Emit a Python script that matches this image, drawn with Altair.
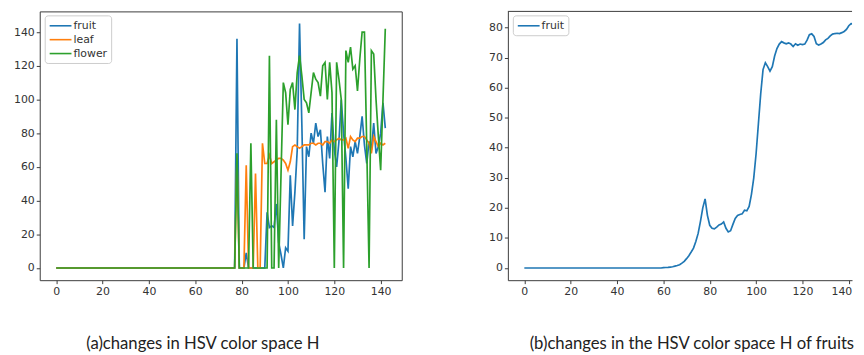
import altair as alt
import pandas as pd

steps = list(range(143))

# (a) per-step H values, steps 0..76 are all zero
fruit_a = [0] * 77 + [
    0, 136, 0, 0, 0, 9, 0, 0, 0, 0, 0, 0, 0, 0,
    33, 24, 25, 24, 38, 15, 8, 0, 12, 10,
    55, 25, 45, 70, 145, 85, 17, 72, 66, 80,
    74, 86, 78, 82, 62, 45, 78, 65, 92, 70,
    60, 75, 100, 80, 65, 47, 72, 66, 75, 68,
    78, 90, 73, 62, 75, 70, 86, 68, 72, 80,
    98, 83,
]
leaf_a = [0] * 77 + [
    0, 66, 0, 0, 0, 61, 0, 0, 0, 56, 0, 0, 74, 62,
    62, 67, 62, 63, 64, 65, 65, 64, 62, 58,
    63, 72, 73, 72, 71, 72, 73, 73, 73, 74,
    74, 73, 74, 74, 73, 75, 75, 74, 76, 75,
    76, 77, 76, 76, 77, 71, 78, 76, 75, 77,
    77, 78, 78, 76, 74, 68, 78, 75, 72, 74,
    73, 74,
]
flower_a = [0] * 77 + [
    0, 68, 0, 0, 0, 0, 0, 74, 0, 0, 0, 0, 0, 0,
    0, 126, 0, 0, 88, 0, 55, 110, 104, 85,
    106, 110, 94, 116, 126, 114, 100, 98, 92, 104,
    116, 112, 110, 102, 120, 122, 100, 122, 104, 0,
    122, 112, 100, 0, 129, 122, 131, 118, 120, 105,
    124, 140, 140, 72, 0, 129, 127, 100, 78, 58,
    100, 142,
]
# (b) smoothed fruit H, steps 0..59 are zero
fruit_b = [0] * 60 + [
    0.1, 0.15, 0.2, 0.3, 0.4, 0.6, 0.8, 1.1, 1.6, 2.2,
    3.1, 4.1, 5.3, 6.6, 8.8, 11.5, 15.5, 20, 23, 17.5,
    14.2, 13.2, 13, 13.6, 14.3, 14.6, 15.3, 13.2, 12, 12.4,
    14.5, 16.5, 17.5, 17.8, 18, 19.2, 19, 20.5, 24.5, 30,
    38, 48, 58, 66, 68.3, 67, 65.5, 67, 70.5, 73,
    74.5, 75.3, 74.9, 74.6, 74.9, 74.5, 73.7, 74.6, 74.1, 74.5,
    74.3, 74.5, 75.8, 77.6, 77.9, 77, 74.6, 74.2, 74.5, 75,
    75.9, 76.4, 77.2, 77.8, 78, 78.1, 78, 78.3, 78.7, 79.4,
    80.6, 81.3, 81.2,
]

series_names = ["fruit", "leaf", "flower"]
series_colors = ["#1f77b4", "#ff7f0e", "#2ca02c"]
x_ticks = [0, 20, 40, 60, 80, 100, 120, 140]
ya_ticks = [0, 20, 40, 60, 80, 100, 120, 140]
yb_ticks = [0, 10, 20, 30, 40, 50, 60, 70, 80]
title_a = "(a)changes in HSV color space H"
title_b = "(b)changes in the HSV color space H of fruits"

rows = []
for name, vals in zip(series_names, [fruit_a, leaf_a, flower_a]):
    for s, v in zip(steps, vals):
        rows.append({"step": s, "value": v, "series": name})
df_a = pd.DataFrame(rows)
df_b = pd.DataFrame({"step": steps, "value": fruit_b, "series": ["fruit"] * len(steps)})

FRAME = "#3c3c3c"
TXT = "#333333"


def axis(values, extent=None, domain=False, flush=False):
    kw = dict(values=values, labelFont="DejaVu Sans", labelFontSize=11, labelColor=TXT,
              tickColor=FRAME, tickSize=3.5, tickWidth=1, labelPadding=2, grid=False,
              domain=domain, domainColor=FRAME, domainWidth=1, title=None)
    if extent is not None:
        kw["minExtent"] = extent
        kw["maxExtent"] = extent
    if flush:
        kw["labelFlush"] = 6
        kw["labelFlushOffset"] = 3
    return alt.Axis(**kw)


def legend():
    return alt.Legend(title=None, orient="none", legendX=5, legendY=4,
                      fillColor="rgba(255,255,255,0.8)", strokeColor="#cccccc",
                      cornerRadius=3, padding=4, rowPadding=2,
                      symbolType="M-1,0H3", symbolSize=121, symbolStrokeWidth=1.6,
                      labelOffset=12, labelFont="DejaVu Sans", labelFontSize=11,
                      labelColor=TXT)


def title(text, dx):
    return alt.TitleParams(text=text, orient="bottom", anchor="middle", font="Lato",
                           fontSize=16.8, fontWeight="normal", color="#222222",
                           offset=40, dx=dx)


left = alt.Chart(df_a).mark_line(strokeWidth=1.7).encode(
    x=alt.X("step:Q", scale=alt.Scale(domain=[-7.1, 149.1], nice=False, zero=False),
            axis=axis(x_ticks)),
    y=alt.Y("value:Q", scale=alt.Scale(domain=[-7.25, 152.25], nice=False, zero=False),
            axis=axis(ya_ticks, extent=31)),
    color=alt.Color("series:N", scale=alt.Scale(domain=series_names, range=series_colors),
                    sort=series_names, legend=legend()),
).properties(width=365, height=271, title=title(title_a, -18),
             view=alt.ViewBackground(stroke=FRAME, strokeWidth=1))

line_b = alt.Chart(df_b).mark_line(strokeWidth=1.7, clip=True).encode(
    x=alt.X("step:Q", scale=alt.Scale(domain=[-7.1, 141.4], nice=False, zero=False),
            axis=axis(x_ticks, domain=True, flush=True)),
    y=alt.Y("value:Q", scale=alt.Scale(domain=[-4.065, 85.365], nice=False, zero=False),
            axis=axis(yb_ticks, extent=30, domain=True)),
    color=alt.Color("series:N", scale=alt.Scale(domain=["fruit"], range=[series_colors[0]]),
                    legend=legend()),
)
top_b = alt.Chart(pd.DataFrame({"k": [0]})).mark_rule(color=FRAME, strokeWidth=1).encode(
    y=alt.value(0))

right = alt.layer(line_b, top_b).properties(
    width=347, height=271, title=title(title_b, 12),
    view=alt.ViewBackground(stroke="transparent"))

chart = alt.hconcat(left, right, spacing=75).resolve_scale(
    color="independent").resolve_legend(color="independent").properties(
    padding={"left": 0, "top": 1, "right": 0, "bottom": 0}
).configure_view(strokeWidth=1)

chart.save("out.html", embed_options={"renderer": "svg", "actions": False})
